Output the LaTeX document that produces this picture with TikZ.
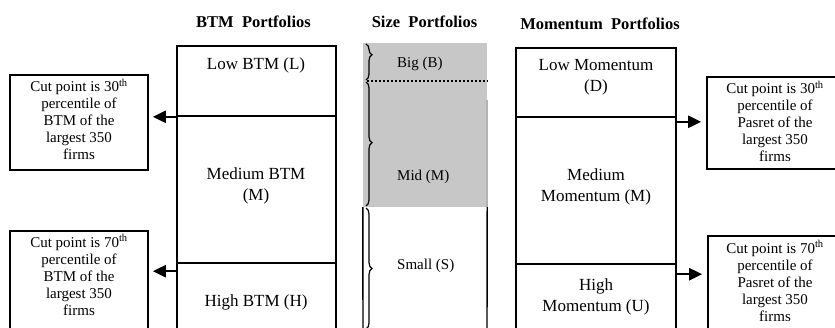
\documentclass[tikz,border=0pt]{standalone}
\usepackage{fontspec}
\setmainfont{Liberation Serif}
\usetikzlibrary{arrows.meta,decorations.pathreplacing,calc}
\begin{document}
\begin{tikzpicture}[x=1pt,y=-1pt,
  colbox/.style={draw,line width=1.6pt,inner sep=0pt},
  cutbox/.style={draw,line width=1.6pt,inner sep=0pt},
  coltext/.style={font=\fontsize{17}{20.5}\selectfont,align=center,inner sep=0pt},
  cuttext/.style={font=\fontsize{15}{17}\selectfont,align=center,inner sep=0pt},
  titletext/.style={font=\fontsize{16.5}{20}\selectfont\bfseries,inner sep=0pt},
  sizetext/.style={font=\fontsize{15}{18}\selectfont,anchor=west,inner sep=0pt},
  arr/.style={line width=2.2pt,-{Triangle[length=13pt,width=12pt]}},
  szbrace/.style={decorate,line width=1.2pt}
]
\useasboundingbox (0,0) rectangle (835,327);
\clip (0,0) rectangle (835,327);

% titles
\node[titletext] (t1) at (253.5,22) {BTM\hspace{0.5em}Portfolios};
\node[titletext] (t2) at (424.5,22) {Size\hspace{0.5em}Portfolios};
\node[titletext] (t3) at (600,24) {Momentum\hspace{0.5em}Portfolios};

% BTM column
\node[colbox,minimum width=159pt,minimum height=70pt] (btmL) at (256.5,81) {};
\node[colbox,minimum width=159pt,minimum height=147pt] (btmM) at (256.5,189.5) {};
\node[colbox,minimum width=159pt,minimum height=82pt] (btmH) at (256.5,304) {};
\node[coltext] (btmLt) at (256,65) {Low BTM (L)};
\node[coltext] (btmMt) at (256,186) {Medium BTM\\(M)};
\node[coltext] (btmHt) at (256,302) {High BTM (H)};

% Size column
\node[fill=black!22,minimum width=124pt,minimum height=164pt,inner sep=0pt] (gray) at (425,125) {};
\draw[line width=2pt,dash pattern=on 2.2pt off 1.8pt] (367,81) -- (gray.east |- 367,81);
\draw[line width=1pt,black!45] (487,100) -- (gray.south east);
\draw[line width=1.4pt] (gray.south east) -- (487,335);
\draw[line width=1.4pt] (gray.south west) -- (363,335);
\draw[szbrace,decoration={brace,amplitude=6pt,aspect=0.3}] (366,44) -- (366,80);
\draw[szbrace,decoration={brace,amplitude=6pt,aspect=0.49}] (366,82) -- (366,206);
\draw[szbrace,decoration={brace,amplitude=6pt,aspect=0.5}] (366,208) -- (366,329);
\node[sizetext] (big) at (397,64) {Big (B)};
\node[sizetext] (mid) at (397,177) {Mid (M)};
\node[sizetext] (small) at (397,266) {Small (S)};

% Momentum column
\node[colbox,minimum width=160pt,minimum height=69pt] (momD) at (596,82.5) {};
\node[colbox,minimum width=160pt,minimum height=147pt] (momM) at (596,190.5) {};
\node[colbox,minimum width=160pt,minimum height=81pt] (momU) at (596,304.5) {};
\node[coltext] (momDt) at (596,77) {Low Momentum\\(D)};
\node[coltext] (momMt) at (596,187) {Medium\\Momentum (M)};
\node[coltext] (momUt) at (596,297) {High\\Momentum (U)};

% cut point boxes
\node[cutbox,minimum width=138pt,minimum height=95pt] (box1) at (79,122.5) {};
\node[cutbox,minimum width=138pt,minimum height=114pt] (box2) at (79,288) {};
\node[cutbox,minimum width=136pt,minimum height=92pt] (box3) at (775,123) {};
\node[cutbox,minimum width=135pt,minimum height=109pt] (box4) at (775.5,290.5) {};
\node[cuttext] (box1t) at (79,119.5) {Cut point is 30\textsuperscript{th}\\percentile of\\BTM of the\\largest 350\\firms};
\node[cuttext] (box2t) at (79,275) {Cut point is 70\textsuperscript{th}\\percentile of\\BTM of the\\largest 350\\firms};
\node[cuttext] (box3t) at (775,121.5) {Cut point is 30\textsuperscript{th}\\percentile of\\Pasret of the\\largest 350\\firms};
\node[cuttext] (box4t) at (775,281) {Cut point is 70\textsuperscript{th}\\percentile of\\Pasret of the\\largest 350\\firms};

% arrows
\coordinate (a1) at (btmL.south west);
\coordinate (a2) at ($(btmH.north west)+(0,9)$);
\coordinate (a3) at ($(momD.south east)+(0,4)$);
\coordinate (a4) at ($(momU.north east)+(0,11)$);
\draw[arr,shorten >=4pt] (a1) -- (box1.east |- a1);
\draw[arr,shorten >=4pt] (a2) -- (box2.east |- a2);
\draw[arr,shorten >=5pt] (a3) -- (box3.west |- a3);
\draw[arr,shorten >=5pt] (a4) -- (box4.west |- a4);
\end{tikzpicture}
\end{document}
